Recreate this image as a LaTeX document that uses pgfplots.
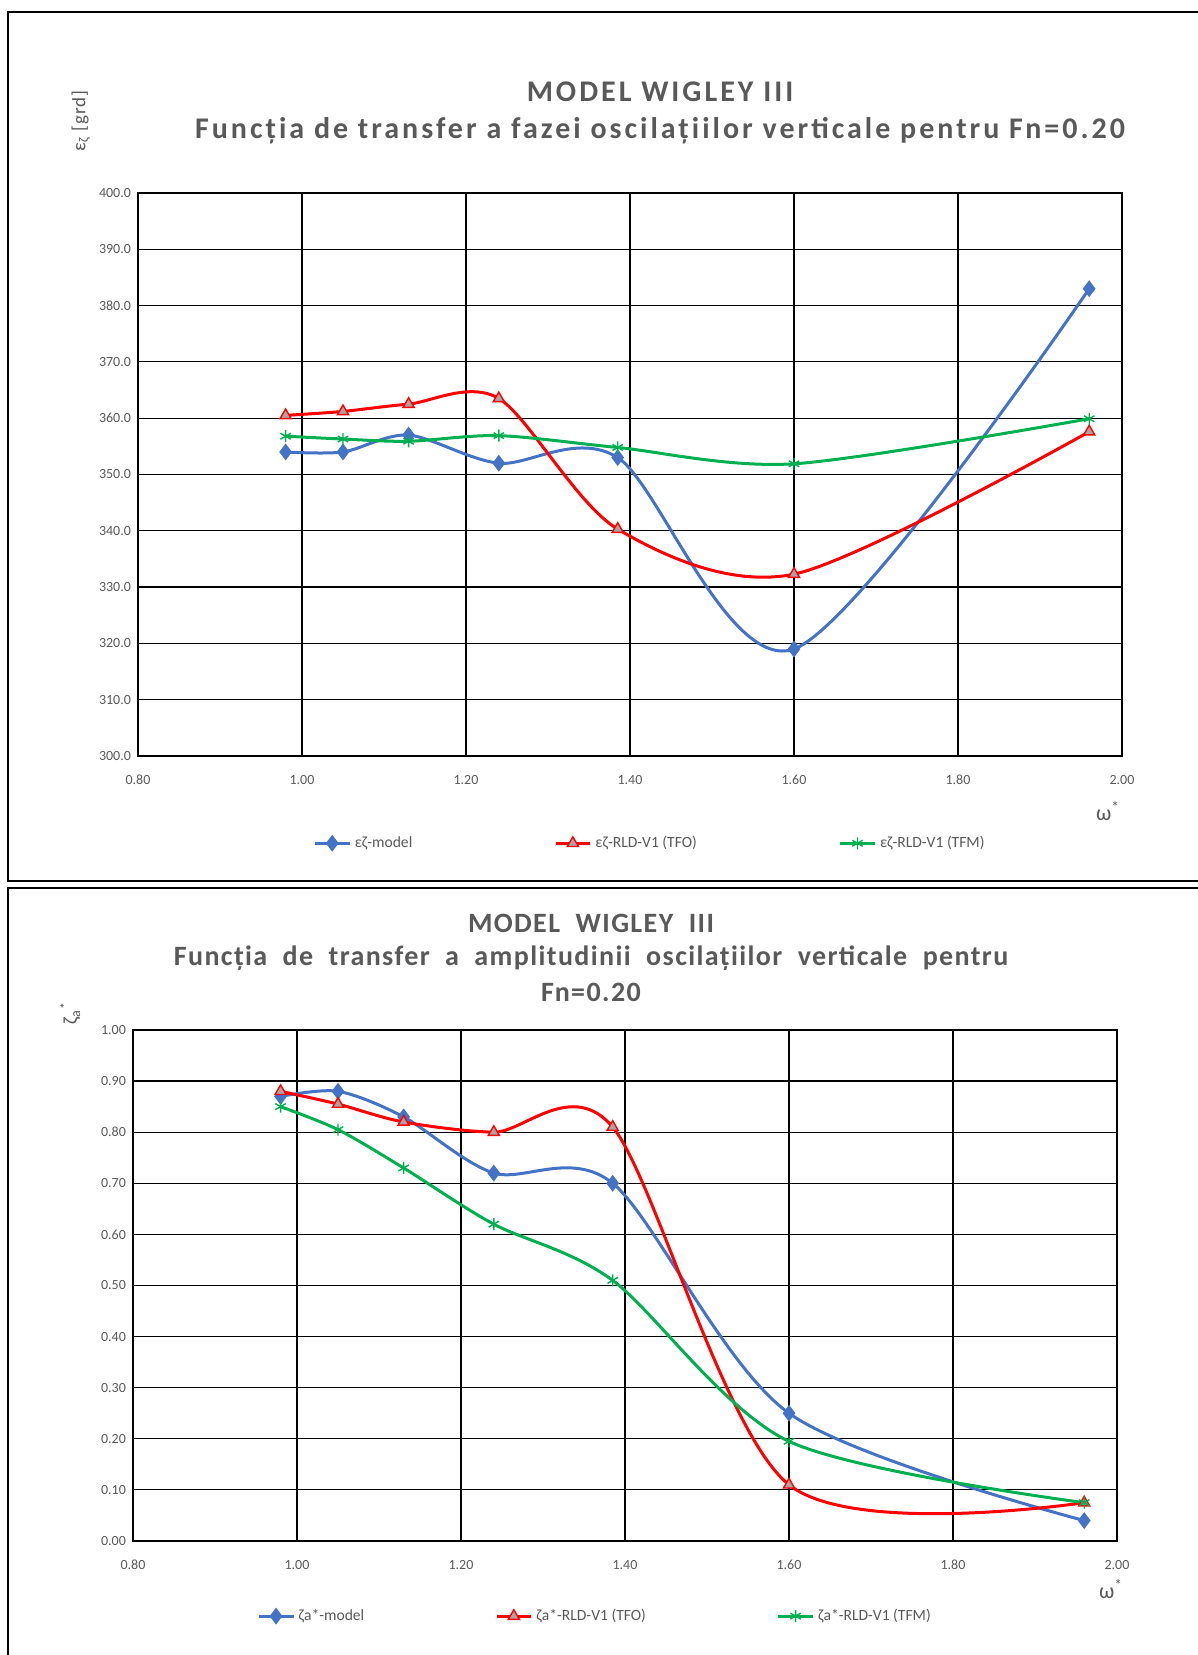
\documentclass[border=0pt]{standalone}
\usepackage{fontspec}
\setmainfont{Carlito}
\usepackage{pgfplots}
\pgfplotsset{compat=1.18}
\usepackage{pgfplotstable}
\definecolor{cblue}{HTML}{4472C4}
\definecolor{cred}{HTML}{FF0000}
\definecolor{cgreen}{HTML}{00B050}
\definecolor{tgrey}{HTML}{595959}
\definecolor{mgrey}{HTML}{A5A5A5}

% omega*, eps-zeta (faza)
\pgfplotstableread{
w     model  tfo    tfm
0.98  354.0  360.5  356.8
1.05  354.0  361.2  356.3
1.13  357.0  362.5  355.9
1.24  352.0  363.5  356.9
1.385 353.0  340.3  354.8
1.60  319.0  332.3  351.9
1.96  383.0  357.6  359.9
}\faza
% omega*, zeta_a* (amplitudine)
\pgfplotstableread{
w     model  tfo    tfm
0.98  0.870  0.880  0.850
1.05  0.880  0.855  0.805
1.13  0.830  0.820  0.730
1.24  0.720  0.800  0.620
1.385 0.700  0.810  0.510
1.60  0.250  0.110  0.195
1.96  0.040  0.075  0.075
}\ampl

\pgfplotsset{
  chartbase/.style={
    scale only axis,
    width=492pt,
    xmin=0.8, xmax=2.0,
    xtick={0.8,1.0,...,2.0},
    grid=major,
    grid style={black, line width=0.6pt},
    axis line style={black, line width=0.6pt},
    major tick length=0pt,
    tick label style={font=\fontsize{7}{8}\selectfont, text=tgrey},
    /pgf/number format/assume math mode=true,
    xticklabel style={/pgf/number format/.cd, fixed, fixed zerofill, precision=2},
    xticklabel shift=6pt,
    legend columns=3,
    legend style={draw=none, fill=none, font=\fontsize{7.8}{9}\selectfont, text=tgrey},
    legend image post style={line width=1.5pt},
    every axis plot/.append style={line width=1.5pt, smooth},
  },
  smodel/.style={cblue, mark=diamond*, mark size=3pt, mark options={fill=cblue, draw=cblue}},
  stfo/.style={cred, mark=triangle*, mark size=3.2pt, mark options={fill=mgrey, draw=cred, line width=0.7pt}},
  stfm/.style={cgreen, mark=asterisk, mark size=3pt, mark options={draw=cgreen, line width=0.7pt}},
}

\begin{document}
\begin{tikzpicture}
\path[use as bounding box] (0,0) rectangle (599pt,827.5pt);
\draw[line width=1pt] (610pt,821.5pt) -- (4pt,821.5pt) -- (4pt,387pt) -- (610pt,387pt);
\draw[line width=1pt] (610pt,383.5pt) -- (4pt,383.5pt) -- (4pt,-10pt);

% ---- faza ----
\begin{axis}[chartbase,
  at={(69pt,449.5pt)}, anchor=south west,
  height=281.5pt,
  ymin=300, ymax=400, ytick={300,310,...,400},
  yticklabel style={/pgf/number format/.cd, fixed, fixed zerofill, precision=1},
  legend style={at={(0.172,-0.155)}, anchor=west,
    /tikz/every even column/.append style={column sep=69pt}},
]
\addplot[smodel] table[x=w, y=model] {\faza};
\addlegendentry{εζ-model}
\addplot[stfo] table[x=w, y=tfo] {\faza};
\addlegendentry{εζ-RLD-V1 (TFO)}
\addplot[stfm] table[x=w, y=tfm] {\faza};
\addlegendentry{εζ-RLD-V1 (TFM)}
\end{axis}
\node[text=tgrey, font=\bfseries\fontsize{15}{17}\selectfont\addfontfeatures{LetterSpace=10}] at (330pt,781.5pt) {MODEL WIGLEY III};
\node[text=tgrey, font=\bfseries\fontsize{15}{17}\selectfont\addfontfeatures{LetterSpace=10}] at (330pt,762pt) {Funcția de transfer a fazei oscilațiilor verticale pentru Fn=0.20};
\node[text=tgrey, rotate=90, font=\fontsize{9.5}{11}\selectfont\addfontfeatures{LetterSpace=5}] at (40.5pt,767pt) {ε\textsubscript{ζ} [grd]};
\node[text=tgrey, font=\fontsize{11}{12}\selectfont] at (554pt,422pt) {ω\textsuperscript{*}};

% ---- amplitudine ----
\begin{axis}[chartbase,
  at={(66.5pt,57pt)}, anchor=south west,
  height=255.5pt,
  ymin=0, ymax=1, ytick={0,0.1,...,1.0},
  yticklabel style={/pgf/number format/.cd, fixed, fixed zerofill, precision=2},
  legend style={at={(0.12,-0.147)}, anchor=west,
    /tikz/every even column/.append style={column sep=63.5pt}},
]
\addplot[smodel] table[x=w, y=model] {\ampl};
\addlegendentry{ζa*-model}
\addplot[stfo] table[x=w, y=tfo] {\ampl};
\addlegendentry{ζa*-RLD-V1 (TFO)}
\addplot[stfm] table[x=w, y=tfm] {\ampl};
\addlegendentry{ζa*-RLD-V1 (TFM)}
\end{axis}
\node[text=tgrey, font=\bfseries\fontsize{14}{16}\selectfont\addfontfeatures{LetterSpace=5}] at (295.5pt,365.7pt) {MODEL\ \ WIGLEY\ \ III};
\node[text=tgrey, font=\bfseries\fontsize{14}{16}\selectfont\addfontfeatures{LetterSpace=5}] at (295.5pt,348.5pt) {Funcția\ \ de\ \ transfer\ \ a\ \ amplitudinii\ \ oscilațiilor\ \ verticale\ \ pentru};
\node[text=tgrey, font=\bfseries\fontsize{14}{16}\selectfont\addfontfeatures{LetterSpace=5}] at (295.5pt,331.5pt) {Fn=0.20};
\node[text=tgrey, rotate=90, font=\fontsize{10}{11}\selectfont] at (35pt,321pt) {ζ\textsubscript{a}\textsuperscript{*}};
\node[text=tgrey, font=\fontsize{11}{12}\selectfont] at (555.5pt,33pt) {ω\textsuperscript{*}};
\end{tikzpicture}
\end{document}
